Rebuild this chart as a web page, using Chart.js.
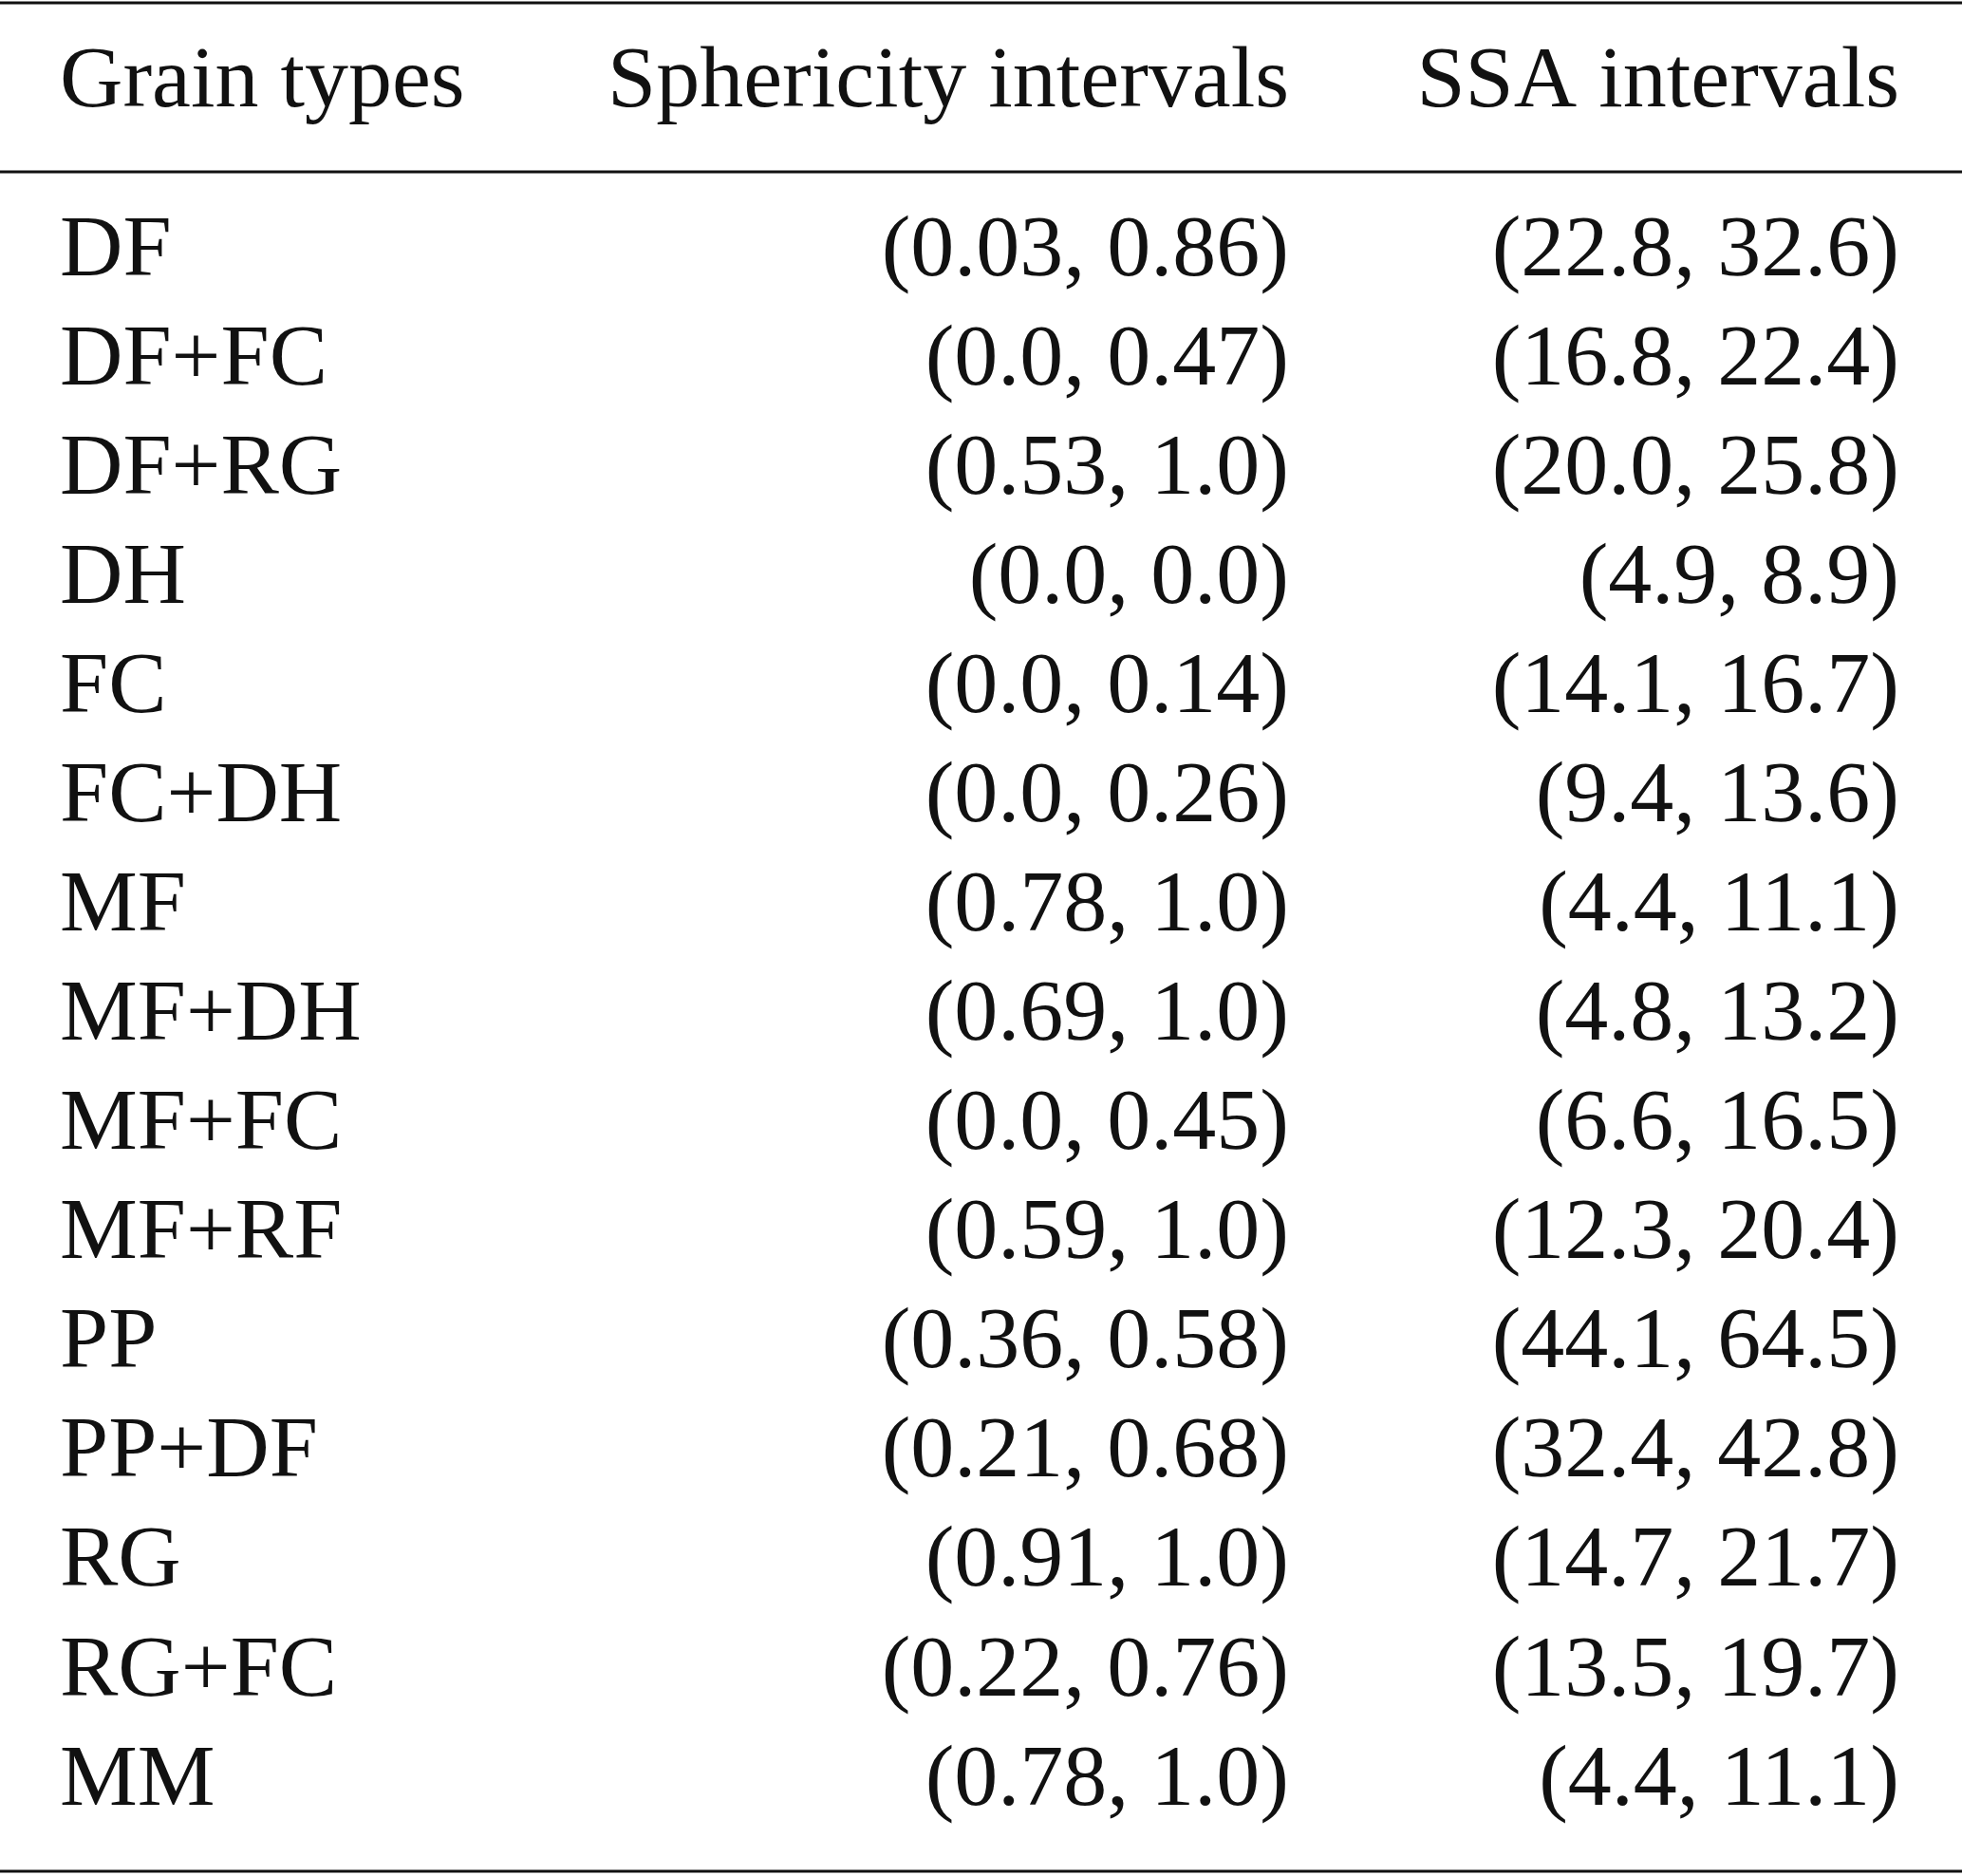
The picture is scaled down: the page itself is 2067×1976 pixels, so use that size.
<!DOCTYPE html>
<html>
<head>
<meta charset="utf-8">
<script src="https://cdn.jsdelivr.net/npm/chart.js@4/dist/chart.umd.min.js"></script>
<style>
  body { margin: 0; background: #fff; }
  #wrap { width: 2067px; height: 1976px; }
</style>
</head>
<body>
<div id="wrap"><canvas id="table"></canvas></div>
<script>
const headers = ['Grain types', 'Sphericity intervals', 'SSA intervals'];
const grainTypes = ['DF', 'DF+FC', 'DF+RG', 'DH', 'FC', 'FC+DH', 'MF', 'MF+DH', 'MF+FC', 'MF+RF', 'PP', 'PP+DF', 'RG', 'RG+FC', 'MM'];
const sphericity = ['(0.03, 0.86)', '(0.0, 0.47)', '(0.53, 1.0)', '(0.0, 0.0)', '(0.0, 0.14)', '(0.0, 0.26)', '(0.78, 1.0)', '(0.69, 1.0)', '(0.0, 0.45)', '(0.59, 1.0)', '(0.36, 0.58)', '(0.21, 0.68)', '(0.91, 1.0)', '(0.22, 0.76)', '(0.78, 1.0)'];
const ssa = ['(22.8, 32.6)', '(16.8, 22.4)', '(20.0, 25.8)', '(4.9, 8.9)', '(14.1, 16.7)', '(9.4, 13.6)', '(4.4, 11.1)', '(4.8, 13.2)', '(6.6, 16.5)', '(12.3, 20.4)', '(44.1, 64.5)', '(32.4, 42.8)', '(14.7, 21.7)', '(13.5, 19.7)', '(4.4, 11.1)'];

const font = '92px "Liberation Serif", "DejaVu Serif", serif';

const tablePlugin = {
    id: 'tableText',
    afterDraw(chart) {
        const ctx = chart.ctx;
        const x = chart.scales.x;
        const y = chart.scales.y;
        const left = x.getPixelForValue(0), right = x.getPixelForValue(2067);
        ctx.save();
        ctx.fillStyle = '#111';
        ctx.strokeStyle = '#111';
        ctx.lineWidth = 3;
        [3, 181, 1971].forEach(yy => {
            ctx.beginPath();
            ctx.moveTo(left, yy);
            ctx.lineTo(right, yy);
            ctx.stroke();
        });
        ctx.font = font;
        ctx.textBaseline = 'middle';
        ctx.textAlign = 'left';
        ctx.fillText(headers[0], x.getPixelForValue(63), 88);
        ctx.textAlign = 'right';
        ctx.fillText(headers[1], x.getPixelForValue(1358), 88);
        ctx.fillText(headers[2], x.getPixelForValue(2001), 88);
        grainTypes.forEach((g, i) => {
            const py = y.getPixelForValue(i) + 2;
            ctx.textAlign = 'left';
            ctx.fillText(g, x.getPixelForValue(63), py);
            ctx.textAlign = 'right';
            ctx.fillText(sphericity[i], x.getPixelForValue(1358), py);
            ctx.fillText(ssa[i], x.getPixelForValue(2001), py);
        });
        ctx.restore();
    }
};

new Chart(document.getElementById('table'), {
    type: 'scatter',
    data: { labels: grainTypes, datasets: [{ data: [] }] },
    options: {
        responsive: true,
        maintainAspectRatio: false,
        animation: false,
        layout: { padding: { top: 206, bottom: 44, left: 0, right: 0 } },
        plugins: { legend: { display: false }, tooltip: { enabled: false } },
        scales: {
            x: { type: 'linear', min: 0, max: 2067, display: false },
            y: { type: 'category', labels: grainTypes, offset: true, display: false }
        }
    },
    plugins: [tablePlugin]
});
</script>
</body>
</html>
